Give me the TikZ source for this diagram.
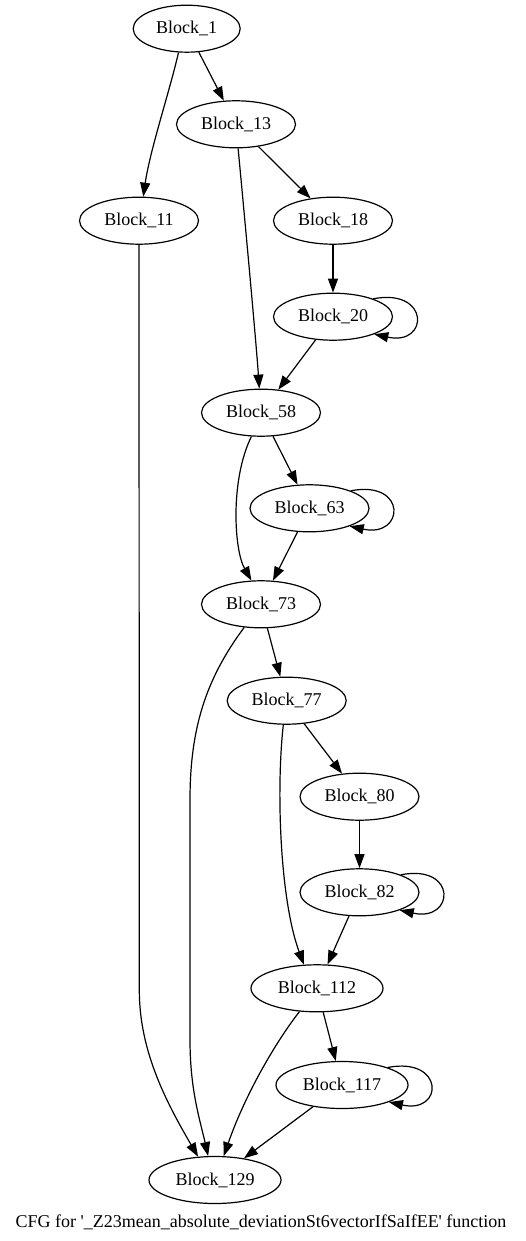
\documentclass[tikz,border=0pt]{standalone}
\usepackage{fontspec}
\setmainfont{Liberation Serif}
\usetikzlibrary{shapes.geometric,arrows.meta}
\begin{document}
\begin{tikzpicture}[x=0.75pt,y=-0.75pt,
  block/.style={draw,ellipse,line width=0.9pt,inner sep=0pt,
    minimum height=35.25pt,minimum width=89.25pt,
    font=\fontsize{13.5}{16}\selectfont},
  wideblock/.style={block,minimum width=99pt},
  flow/.style={draw,line width=0.9pt,-{Triangle[length=10.5pt,width=7.5pt]}}]
\useasboundingbox (0,0) rectangle (525,1241);

% basic blocks
\node[block,minimum width=80.25pt] (b1) at (186.7,28.7) {Block\_1};
\node[block] (b13) at (236,124.3) {Block\_13};
\node[block] (b11) at (139,220.7) {Block\_11};
\node[block] (b18) at (333,220.7) {Block\_18};
\node[block] (b20) at (333,316.7) {Block\_20};
\node[block] (b58) at (261,412.7) {Block\_58};
\node[block] (b63) at (309.5,508.3) {Block\_63};
\node[block] (b73) at (261,604.3) {Block\_73};
\node[block] (b77) at (286.7,700.7) {Block\_77};
\node[block] (b80) at (359.5,796.7) {Block\_80};
\node[block] (b82) at (359.5,892.3) {Block\_82};
\node[wideblock] (b112) at (317,988.3) {Block\_112};
\node[wideblock] (b117) at (342,1085) {Block\_117};
\node[wideblock] (b129) at (215,1180) {Block\_129};

\node[font=\fontsize{13.5}{16}\selectfont] (caption) at (261,1222)
  {CFG for \textquotesingle\_Z23mean\_absolute\_deviationSt6vectorIfSaIfEE\textquotesingle{} function};

% control-flow edges
\draw[flow] (b1.251) .. controls (170,90) and (150,150) .. (b11.80);
\draw[flow] (b1) -- (b13);
\draw[flow] (b13.275) .. controls (243,200) and (256,340) .. (b58.94);
\draw[flow] (b13) -- (b18);
\draw[flow] (b11.270) -- (139.3,990) .. controls (139.3,1050) and (165,1100) .. (b129.126);
\draw[flow] (b18) -- (b20);
\draw[flow] (b20.24) .. controls +(57,-11) and +(55,12) .. (b20.337);
\draw[flow] (b20) -- (b58);
\draw[flow] (b58.248) .. controls (230,480) and (234,550) .. (b73.112);
\draw[flow] (b58) -- (b63);
\draw[flow] (b63.23) .. controls +(57,-11) and +(55,12) .. (b63.336);
\draw[flow] (b63) -- (b73);
\draw[flow] (b73.234) .. controls (205,680) and (190,730) .. (190,800)
  -- (190,1040) .. controls (190,1090) and (200,1120) .. (b129.106);
\draw[flow] (b73) -- (b77);
\draw[flow] (b77.262) .. controls (276,790) and (280,900) .. (b112.119);
\draw[flow] (b77) -- (b80);
\draw[flow] (b80) -- (b82);
\draw[flow] (b82.23) .. controls +(57,-11) and +(55,12) .. (b82.336);
\draw[flow] (b82) -- (b112);
\draw[flow] (b112.233) .. controls (275,1043) and (245,1095) .. (b129.70);
\draw[flow] (b112) -- (b117);
\draw[flow] (b117.21) .. controls +(57,-11) and +(55,12) .. (b117.340);
\draw[flow] (b117) -- (b129);
\end{tikzpicture}
\end{document}
